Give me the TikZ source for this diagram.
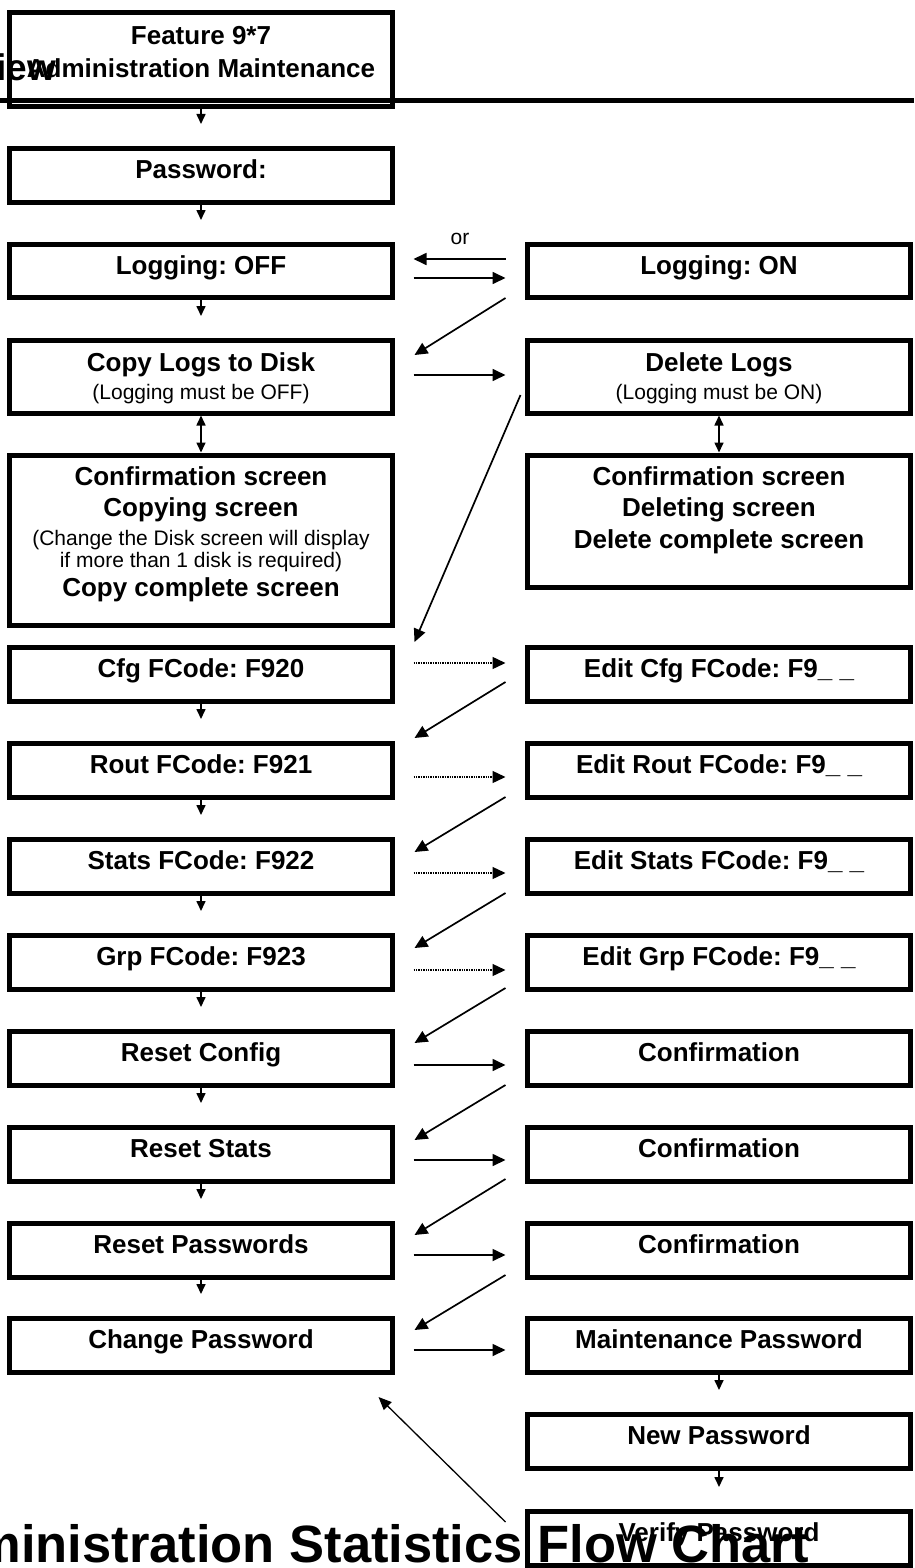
\documentclass[tikz,border=0pt]{standalone}
\usepackage{fontspec}
\setmainfont{Liberation Sans}
\usetikzlibrary{arrows.meta}
\newcommand{\subf}{\fontsize{21}{28}\selectfont\mdseries}
\frenchspacing
\begin{document}
\frenchspacing
\begin{tikzpicture}[x=1pt,y=-1pt,
  box/.style={draw, line width=5pt, inner sep=0pt, minimum width=383pt, anchor=north,
    align=center, text height=30.5pt, font=\fontsize{26}{33}\selectfont\bfseries\frenchspacing},
  std/.style={box, text depth=23.5pt},
  arr/.style={line width=1.7pt, -{Triangle[length=13pt,width=12pt]}},
  darr/.style={line width=1.6pt, -{Triangle[length=10pt,width=9pt]}},
  barr/.style={line width=1.6pt, {Triangle[length=10pt,width=9pt]}-{Triangle[length=10pt,width=9pt]}},
  dotarr/.style={line width=1.4pt, densely dotted, -{Triangle[length=13pt,width=12pt]}},
  backarr/.style={line width=1.3pt, -{Triangle[length=13pt,width=11pt]}}
]
\useasboundingbox (0,0) rectangle (914,1568);
\clip (0,0) rectangle (914,1568);

% left column
\node[box, text height=64.5pt, text depth=29.5pt] (feat) at (201,10.5) {Feature 9*7\\Administration Maintenance};
\node[std] (pass) at (201,145.5) {Password:};
\node[box, text depth=22.5pt] (logoff) at (201,241.5) {Logging: OFF};
\node[box, text height=59.5pt, text depth=13.5pt] (copy) at (201,337.5) {Copy Logs to Disk\\[-5pt]{\subf (Logging must be OFF)}};
\node[box, text height=141.5pt, text depth=28.5pt] (confL) at (201,452.5) {Confirmation screen\\[-2pt]Copying screen\\[-4.5pt]{\subf (Change the Disk screen will display}\\[-11pt]{\subf if more than 1 disk is required)}\\[-3.5pt]Copy complete screen};
\node[std] (cfg) at (201,644.5) {Cfg FCode: F920};
\node[std] (rout) at (201,740.5) {Rout FCode: F921};
\node[std] (stats) at (201,836.5) {Stats FCode: F922};
\node[std] (grp) at (201,932.5) {Grp FCode: F923};
\node[std] (rcfg) at (201,1028.5) {Reset Config};
\node[std] (rstats) at (201,1124.5) {Reset Stats};
\node[std] (rpw) at (201,1220.5) {Reset Passwords};
\node[std] (chpw) at (201,1315.5) {Change Password};

% right column
\node[box, text depth=22.5pt] (logon) at (719,241.5) {Logging: ON};
\node[box, text height=59.5pt, text depth=13.5pt] (del) at (719,337.5) {Delete Logs\\[-5pt]{\subf (Logging must be ON)}};
\node[box, text height=93.5pt, text depth=38.5pt] (confR) at (719,452.5) {Confirmation screen\\[-2pt]Deleting screen\\[-1pt]Delete complete screen};
\node[std] (ecfg) at (719,644.5) {Edit Cfg FCode: F9\_ \_};
\node[std] (erout) at (719,740.5) {Edit Rout FCode: F9\_ \_};
\node[std] (estats) at (719,836.5) {Edit Stats FCode: F9\_ \_};
\node[std] (egrp) at (719,932.5) {Edit Grp FCode: F9\_ \_};
\node[std] (conf1) at (719,1028.5) {Confirmation};
\node[std] (conf2) at (719,1124.5) {Confirmation};
\node[std] (conf3) at (719,1220.5) {Confirmation};
\node[std] (maint) at (719,1315.5) {Maintenance Password};
\node[std] (newpw) at (719,1411.5) {New Password};
\node[std] (verify) at (719,1508.5) {Verify Password};

% heading remnants
\draw[line width=5.5pt] (0,100.5) -- (914,100.5);
\node[font=\fontsize{37}{40}\selectfont\bfseries, anchor=base east, inner sep=0pt] (h1) at (56,81) {iew};
\node[font=\fontsize{52.5}{60}\selectfont\bfseries, anchor=base east, inner sep=0pt] (h2) at (809,1562) {Administration Statistics Flow Chart};
\node[font=\fontsize{21}{25}\selectfont, anchor=base, inner sep=0pt] (or) at (460,244) {or};

% vertical arrows
\draw[darr] (feat.south) -- ([yshift=21.5pt]pass.north);
\draw[darr] (pass.south) -- ([yshift=21.5pt]logoff.north);
\draw[darr] (logoff.south) -- ([yshift=21.5pt]copy.north);
\draw[barr] (copy.south) -- (confL.north);
\draw[barr] (del.south) -- (confR.north);
\draw[darr] (cfg.south) -- ([yshift=21.5pt]rout.north);
\draw[darr] (rout.south) -- ([yshift=21.5pt]stats.north);
\draw[darr] (stats.south) -- ([yshift=21.5pt]grp.north);
\draw[darr] (grp.south) -- ([yshift=21.5pt]rcfg.north);
\draw[darr] (rcfg.south) -- ([yshift=21.5pt]rstats.north);
\draw[darr] (rstats.south) -- ([yshift=21.5pt]rpw.north);
\draw[darr] (rpw.south) -- ([yshift=21.5pt]chpw.north);
\draw[darr] (maint.south) -- ([yshift=21.5pt]newpw.north);
\draw[darr] (newpw.south) -- ([yshift=21.5pt]verify.north);

% horizontal arrows
\draw[arr] ([shift={(-19.5,17.5)}]logon.north west) -- ([shift={(18.5,17.5)}]logoff.north east);
\draw[arr] ([shift={(18.5,36.5)}]logoff.north east) -- ([shift={(-19.5,36.5)}]logon.north west);
\draw[arr] ([shift={(18.5,37.5)}]copy.north east) -- ([shift={(-19.5,37.5)}]del.north west);
\draw[dotarr] ([shift={(18.5,18.5)}]cfg.north east) -- ([shift={(-19.5,18.5)}]ecfg.north west);
\draw[dotarr] ([shift={(18.5,36.5)}]rout.north east) -- ([shift={(-19.5,36.5)}]erout.north west);
\draw[dotarr] ([shift={(18.5,36.5)}]stats.north east) -- ([shift={(-19.5,36.5)}]estats.north west);
\draw[dotarr] ([shift={(18.5,37.5)}]grp.north east) -- ([shift={(-19.5,37.5)}]egrp.north west);
\draw[arr] ([shift={(18.5,36.5)}]rcfg.north east) -- ([shift={(-19.5,36.5)}]conf1.north west);
\draw[arr] ([shift={(18.5,35.5)}]rstats.north east) -- ([shift={(-19.5,35.5)}]conf2.north west);
\draw[arr] ([shift={(18.5,34.5)}]rpw.north east) -- ([shift={(-19.5,34.5)}]conf3.north west);
\draw[arr] ([shift={(18.5,34.5)}]chpw.north east) -- ([shift={(-19.5,34.5)}]maint.north west);

% diagonal arrows
\draw[arr] ([shift={(-19.5,56.5)}]logon.north west) -- ([shift={(19.5,17.5)}]copy.north east);
\draw[arr] ([shift={(-4.5,57.5)}]del.north west) -- ([shift={(19.5,-2.5)}]cfg.north east);
\draw[arr] ([shift={(-19.5,37.5)}]ecfg.north west) -- ([shift={(19.5,-2.5)}]rout.north east);
\draw[arr] ([shift={(-19.5,56.5)}]erout.north west) -- ([shift={(19.5,15.5)}]stats.north east);
\draw[arr] ([shift={(-19.5,56.5)}]estats.north west) -- ([shift={(19.5,15.5)}]grp.north east);
\draw[arr] ([shift={(-19.5,55.5)}]egrp.north west) -- ([shift={(19.5,14.5)}]rcfg.north east);
\draw[arr] ([shift={(-19.5,56.5)}]conf1.north west) -- ([shift={(19.5,15.5)}]rstats.north east);
\draw[arr] ([shift={(-19.5,54.5)}]conf2.north west) -- ([shift={(19.5,14.5)}]rpw.north east);
\draw[arr] ([shift={(-19.5,54.5)}]conf3.north west) -- ([shift={(19.5,14.5)}]chpw.north east);
\draw[backarr] ([shift={(-19.5,13.5)}]verify.north west) -- ([shift={(-16.5,22.5)}]chpw.south east);
\end{tikzpicture}
\end{document}
